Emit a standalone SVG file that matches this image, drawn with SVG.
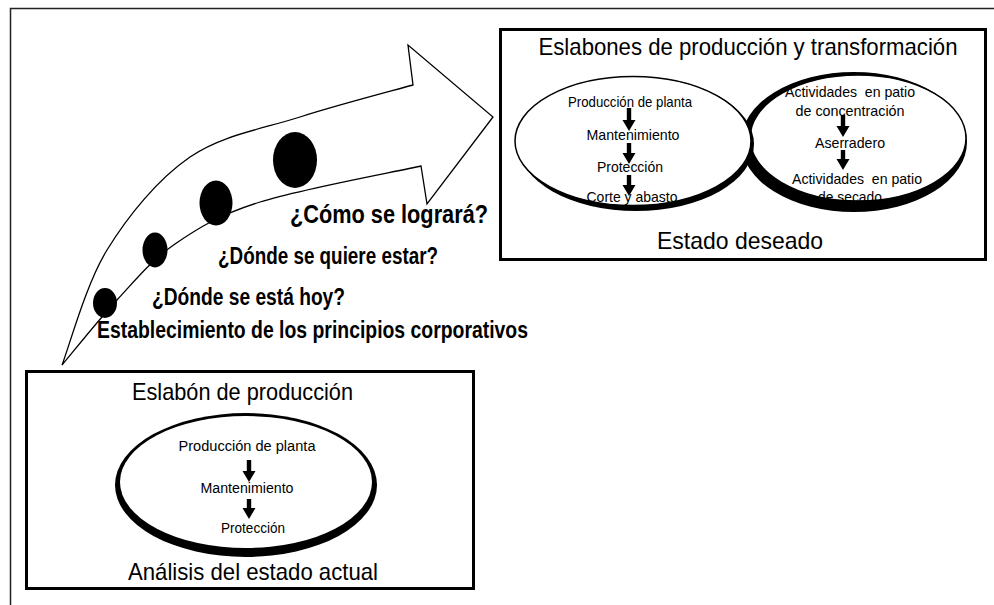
<svg xmlns="http://www.w3.org/2000/svg" width="994" height="605" viewBox="0 0 994 605">
<style>
text{font-family:"Liberation Sans",Arial,sans-serif;fill:#000}
.t{font-size:24px;text-anchor:middle}
.s{font-size:15px;text-anchor:middle}
.s2{font-size:15.5px;text-anchor:middle}
.b{font-family:"Liberation Sans Narrow","Liberation Sans",Arial,sans-serif;font-weight:bold;font-size:23.5px}
.box{fill:#fff;stroke:#000;stroke-width:3}
.ar{fill:#000}
.thin{fill:#fff;stroke:#000;stroke-width:1.5}
</style>
<rect width="994" height="605" fill="#fff"/>
<path d="M10.5,605 V8.5 H994" fill="none" stroke="#222" stroke-width="1.5"/>

<g id="connectors">
<path id="big-arrow" d="M62,365 C71.2,354.2 98.2,320.2 117,300 C135.8,279.8 151.2,260.3 175,244 C198.8,227.7 219,215 260,202 C301,189 394.2,172 421,166 L427,204 L493,117 L408,45 L413,85 C394.2,90.3 337.2,105 300,117 C262.8,129 222.2,134.8 190,157 C157.8,179.2 128.3,215.3 107,250 C85.7,284.7 69.5,345.8 62,365 Z" fill="#fff" stroke="#000" stroke-width="1.3" stroke-linejoin="miter"/>
</g>

<g id="steps">
<ellipse cx="105" cy="303" rx="12" ry="15"/>
<ellipse cx="155" cy="250" rx="12.5" ry="17.5"/>
<ellipse cx="216" cy="203" rx="16.5" ry="22.5"/>
<ellipse cx="295" cy="160" rx="22" ry="28"/>
<text class="b" x="290" y="223" style="font-size:26px" textLength="198" lengthAdjust="spacingAndGlyphs">¿Cómo se logrará?</text>
<text class="b" x="218" y="264" textLength="220" lengthAdjust="spacingAndGlyphs">¿Dónde se quiere estar?</text>
<text class="b" x="152" y="305" textLength="193" lengthAdjust="spacingAndGlyphs">¿Dónde se está hoy?</text>
<text class="b" x="97" y="338" textLength="431" lengthAdjust="spacingAndGlyphs">Establecimiento de los principios corporativos</text>
</g>

<g id="estado-deseado">
<rect class="box" x="500.5" y="29.5" width="485" height="230"/>
<text class="t" x="748" y="55" textLength="419" lengthAdjust="spacingAndGlyphs">Eslabones de producción y transformación</text>
<text class="t" x="740" y="249" textLength="166" lengthAdjust="spacingAndGlyphs">Estado deseado</text>
<g id="transformacion">
<ellipse class="thin" cx="858" cy="138" rx="108" ry="63"/>
<text class="s" x="850" y="97" textLength="130" lengthAdjust="spacingAndGlyphs" xml:space="preserve">Actividades  en patio</text>
<text class="s" x="850" y="116" textLength="109" lengthAdjust="spacingAndGlyphs">de concentración</text>
<text class="s" x="850" y="148" textLength="70" lengthAdjust="spacingAndGlyphs">Aserradero</text>
<text class="s" x="857" y="184" textLength="130" lengthAdjust="spacingAndGlyphs" xml:space="preserve">Actividades  en patio</text>
<text class="s" x="850" y="202" textLength="64" lengthAdjust="spacingAndGlyphs">de secado</text>
<path class="ar" d="M840.8,115 H845.2 V126 H849.5 L843,137 L836.5,126 H840.8 Z"/>
<path class="ar" d="M840.8,150 H845.2 V159 H849.5 L843,170 L836.5,159 H840.8 Z"/>
<path fill="#000" fill-rule="evenodd" d="M741,142 A113,70 0 1,0 967,142 A113,70 0 1,0 741,142 Z M750,138 A108,63 0 1,0 966,138 A108,63 0 1,0 750,138 Z"/>
</g>
<g id="produccion-deseada">
<ellipse cx="636" cy="144" rx="118" ry="67" fill="#000"/>
<ellipse class="thin" cx="633" cy="141" rx="118" ry="64.5"/>
<text class="s" x="630" y="107" textLength="124" lengthAdjust="spacingAndGlyphs">Producción de planta</text>
<text class="s" x="633" y="140" textLength="93" lengthAdjust="spacingAndGlyphs">Mantenimiento</text>
<text class="s" x="630" y="172" textLength="66" lengthAdjust="spacingAndGlyphs">Protección</text>
<text class="s" x="632" y="202" textLength="91" lengthAdjust="spacingAndGlyphs">Corte y abasto</text>
<path class="ar" d="M626.8,108 H631.2 V120 H635.5 L629,131 L622.5,120 H626.8 Z"/>
<path class="ar" d="M626.8,143 H631.2 V153 H635.5 L629,164 L622.5,153 H626.8 Z"/>
<path class="ar" d="M626.8,175 H631.2 V185 H635.5 L629,196 L622.5,185 H626.8 Z"/>
</g>
</g>

<g id="estado-actual">
<rect class="box" x="26.5" y="371.5" width="447" height="217"/>
<text class="t" x="242.5" y="400" textLength="221" lengthAdjust="spacingAndGlyphs">Eslabón de producción</text>
<text class="t" x="253" y="580" textLength="250" lengthAdjust="spacingAndGlyphs">Análisis del estado actual</text>
<g id="produccion-actual">
<ellipse cx="246" cy="485" rx="131" ry="72" fill="#000"/>
<ellipse cx="246" cy="482" rx="126" ry="66" fill="#fff"/>
<text class="s2" x="247" y="451" textLength="137" lengthAdjust="spacingAndGlyphs">Producción de planta</text>
<text class="s2" x="247" y="493" textLength="93" lengthAdjust="spacingAndGlyphs">Mantenimiento</text>
<text class="s2" x="253" y="533" textLength="64" lengthAdjust="spacingAndGlyphs">Protección</text>
<path class="ar" d="M246.8,460 H251.2 V471 H255.5 L249,482 L242.5,471 H246.8 Z"/>
<path class="ar" d="M246.8,499 H251.2 V508 H255.5 L249,519 L242.5,508 H246.8 Z"/>
</g>
</g>
</svg>
